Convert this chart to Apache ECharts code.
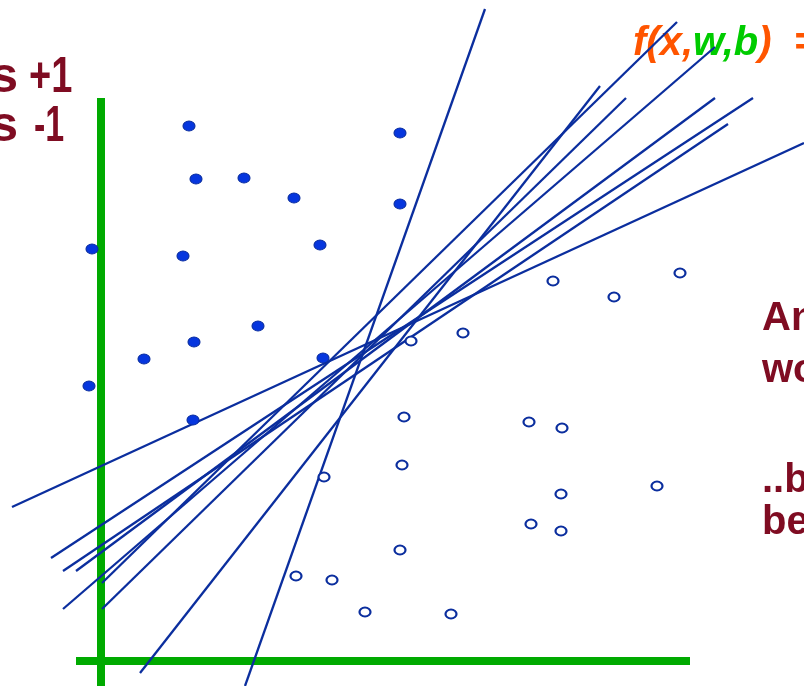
<!DOCTYPE html>
<html><head><meta charset="utf-8">
<script src="https://cdn.jsdelivr.net/npm/echarts@6/dist/echarts.min.js"></script>
<style>html,body{margin:0;padding:0;background:#fff;overflow:hidden}#c{width:804px;height:686px}</style>
</head><body><div id="c"></div>
<script>
// class +1 points (filled)
const positivePoints = [
  [88,535],[299,528],[95,482],[143,483],[193,463],[299,457],[-9,412],[82,405],
  [219,416],[157,335],[93,319],[43,302],[222,303],[-12,275],[92,241]
];
// class -1 points (open)
const negativePoints = [
  [452,380],[579,388],[513,364],[362,328],[310,320],[303,244],[428,239],[461,233],
  [301,196],[223,184],[460,167],[556,175],[430,137],[460,130],[299,111],[195,85],
  [231,81],[264,49],[350,47]
];
// candidate separating lines (two end points each)
const candidateLines = [
  [[384,652],[144,-25]],
  [[-89,154],[703,518]],
  [[39,-12],[499,575]],
  [[-38,52],[614,614]],
  [[1,52],[525,563]],
  [[1,78],[576,639]],
  [[-50,103],[652,563]],
  [[-38,90],[627,537]],
  [[-25,90],[614,563]]
];
const xAxisLine = [[-25,0],[589,0]];
const yAxisLine = [[0,-25],[0,563]];

const LINE_COLOR = '#0b2e9e';
const series = [
  {type:'line', data:xAxisLine, symbol:'none', lineStyle:{color:'#00aa00', width:8}, z:1, silent:true},
  {type:'line', data:yAxisLine, symbol:'none', lineStyle:{color:'#00aa00', width:8}, z:1, silent:true}
];
candidateLines.forEach(l => series.push({
  type:'line', data:l, symbol:'none', lineStyle:{color:LINE_COLOR, width:2.3}, z:2, silent:true
}));
series.push({type:'scatter', data:positivePoints, symbol:'circle', symbolSize:[12,10],
  itemStyle:{color:'#0636de', borderColor:'#0b2e9e', borderWidth:1, opacity:1}, z:3});
series.push({type:'scatter', data:negativePoints, symbol:'circle', symbolSize:[11,9],
  itemStyle:{color:'#ffffff', borderColor:'#0b2e9e', borderWidth:2, opacity:1}, z:3});

const chart = echarts.init(document.getElementById('c'), null, {renderer:'canvas'});
const RED = '#7f0c22';
const F48 = 'bold 50px "Liberation Sans", Arial, sans-serif';
const F40 = 'bold 40px "Liberation Sans", Arial, sans-serif';
const FI = 'italic bold 40px "Liberation Sans", Arial, sans-serif';
chart.setOption({
  animation:false,
  backgroundColor:'#ffffff',
  grid:{left:0, right:0, top:0, bottom:0},
  xAxis:{type:'value', min:-101, max:703, show:false},
  yAxis:{type:'value', min:-25, max:661, show:false},
  series: series,
  graphic:[
    {type:'text', x:18, y:78, style:{text:'denotes', align:'right', verticalAlign:'middle', font:F48, fill:RED}},
    {type:'text', x:29, y:78, scaleX:0.76, style:{text:'+1', align:'left', verticalAlign:'middle', font:F48, fill:RED}},
    {type:'text', x:18, y:127, style:{text:'denotes', align:'right', verticalAlign:'middle', font:F48, fill:RED}},
    {type:'text', x:34, y:127, scaleX:0.68, style:{text:'-1', align:'left', verticalAlign:'middle', font:F48, fill:RED}},
    {type:'text', x:762, y:319, style:{text:'Any of these', align:'left', verticalAlign:'middle', font:F40, fill:RED}},
    {type:'text', x:762, y:371, style:{text:'would be fine..', align:'left', verticalAlign:'middle', font:F40, fill:RED}},
    {type:'text', x:762, y:481, style:{text:'..but which is', align:'left', verticalAlign:'middle', font:F40, fill:RED}},
    {type:'text', x:762, y:523, style:{text:'best?', align:'left', verticalAlign:'middle', font:F40, fill:RED}},
    {type:'text', x:633, y:44, style:{
      text:'{o|f(x,}{g|w,b}{o|)  = sign(w. x - b)}', align:'left', verticalAlign:'middle', font:FI,
      rich:{ o:{fill:'#ff5500', font:FI}, g:{fill:'#00cc00', font:FI} }}}
  ]
});
</script></body></html>
